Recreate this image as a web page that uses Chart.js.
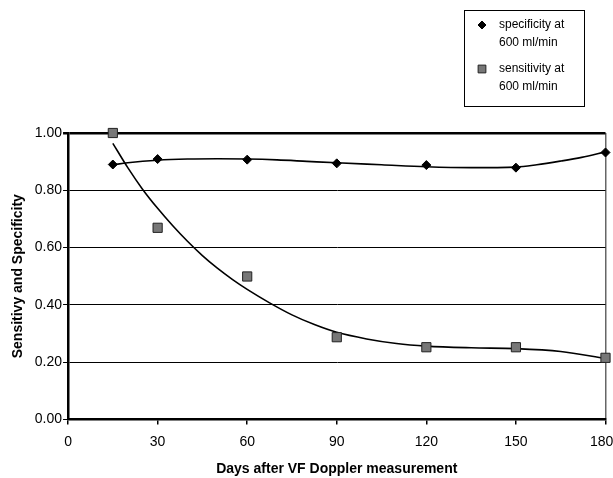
<!DOCTYPE html>
<html>
<head>
<meta charset="utf-8">
<script src="https://cdn.jsdelivr.net/npm/chart.js@4.4.1/dist/chart.umd.min.js"></script>
<style>
  html, body { margin: 0; padding: 0; background: #fff; }
  #wrap { width: 613px; height: 478px; position: relative; }
</style>
</head>
<body>
<div id="wrap"><canvas id="chart" width="613" height="478"></canvas></div>
<script>
// measured days
const days = [15, 30, 60, 90, 120, 150, 180];
const specificity = [0.89, 0.909, 0.907, 0.894, 0.888, 0.879, 0.932];
const sensitivity = [1.00, 0.669, 0.499, 0.287, 0.252, 0.252, 0.215];

// trend lines
const specTrendDays = [15, 20, 30, 40, 50, 60, 70, 80, 90, 105, 120, 135, 150, 157, 165, 172, 180];
const specTrend = [0.889, 0.896, 0.905, 0.909, 0.910, 0.909, 0.906, 0.901, 0.896, 0.889, 0.882, 0.879, 0.881, 0.889, 0.902, 0.915, 0.934];
const sensTrendDays = [15, 20, 25, 30, 35, 40, 45, 50, 55, 60, 67.5, 75, 82.5, 90, 100, 110, 120, 135, 150, 165, 180];
const sensTrend = [0.964, 0.879, 0.803, 0.737, 0.677, 0.622, 0.572, 0.528, 0.489, 0.454, 0.407, 0.365, 0.331, 0.304, 0.281, 0.265, 0.256, 0.250, 0.247, 0.237, 0.213];

const xTicks = [0, 30, 60, 90, 120, 150, 180];
const yTicks = [0, 0.2, 0.4, 0.6, 0.8, 1.0];

const FONT = "'Liberation Sans', Arial, sans-serif";

function pts(xs, ys) {
  return xs.map((x, i) => ({ x, y: ys[i] }));
}

// boxed legend in the top right corner
const boxLegend = {
  id: 'boxLegend',
  afterDraw(chart) {
    const ctx = chart.ctx;
    const x0 = 464, y0 = 10, w = 120, h = 96;
    ctx.save();
    ctx.strokeStyle = '#000';
    ctx.lineWidth = 1;
    ctx.strokeRect(x0 + 0.5, y0 + 0.5, w, h);
    ctx.font = '12px ' + FONT;
    ctx.textBaseline = 'middle';
    const items = [
      { ds: chart.data.datasets[0], y: y0 + 15, r: 4 },
      { ds: chart.data.datasets[1], y: y0 + 59, r: 5.5 }
    ];
    items.forEach(it => {
      ctx.fillStyle = it.ds.backgroundColor;
      ctx.strokeStyle = it.ds.borderColor;
      ctx.lineWidth = 1;
      Chart.helpers.drawPoint(ctx, {
        pointStyle: it.ds.pointStyle,
        radius: it.r,
        borderWidth: 1
      }, x0 + 18, it.y);
      ctx.fillStyle = '#000';
      it.ds.label.split('\n').forEach((ln, k) => ctx.fillText(ln, x0 + 35, it.y + k * 17.5));
    });
    ctx.restore();
  }
};

new Chart(document.getElementById('chart'), {
  type: 'scatter',
  data: {
    datasets: [
      {
        label: 'specificity at\n600 ml/min',
        data: pts(days, specificity),
        pointStyle: 'rectRot',
        pointRadius: 4.5,
        backgroundColor: '#000',
        borderColor: '#000',
        borderWidth: 1,
        clip: false,
        order: 1
      },
      {
        label: 'sensitivity at\n600 ml/min',
        data: pts(days, sensitivity),
        pointStyle: 'rect',
        pointRadius: 6.5,
        backgroundColor: '#777',
        borderColor: '#222',
        borderWidth: 1,
        clip: false,
        order: 1
      },
      {
        type: 'line',
        label: 'spec trend',
        data: pts(specTrendDays, specTrend),
        borderColor: '#000',
        borderWidth: 1.6,
        pointRadius: 0,
        fill: false,
        cubicInterpolationMode: 'monotone',
        order: 2
      },
      {
        type: 'line',
        label: 'sens trend',
        data: pts(sensTrendDays, sensTrend),
        borderColor: '#000',
        borderWidth: 1.6,
        pointRadius: 0,
        fill: false,
        cubicInterpolationMode: 'monotone',
        order: 2
      }
    ]
  },
  options: {
    responsive: false,
    animation: false,
    layout: { padding: { top: 133, right: 7, left: 0, bottom: 0 } },
    plugins: {
      legend: { display: false },
      tooltip: { enabled: false }
    },
    scales: {
      x: {
        type: 'linear',
        min: 0,
        max: 180,
        afterBuildTicks: s => { s.ticks = xTicks.map(v => ({ value: v })); },
        afterFit: s => { s.paddingRight = 0; s.paddingLeft = 0; },
        ticks: {
          color: '#000',
          font: { family: FONT, size: 14 },
          padding: 9,
          maxRotation: 0,
          callback: v => v === 180 ? v + '  ' : String(v)
        },
        grid: {
          drawOnChartArea: true,
          color: c => (c.tick && c.tick.value === 180) ? '#666' : 'rgba(0,0,0,0)',
          tickColor: '#000',
          tickLength: 5,
          lineWidth: 1.5
        },
        border: { color: '#000', width: 2.5 },
        title: {
          display: true,
          text: 'Days after VF Doppler measurement',
          color: '#000',
          font: { family: FONT, size: 14, weight: 'bold' },
          padding: { top: 2, bottom: 0 }
        }
      },
      y: {
        min: 0,
        max: 1,
        afterBuildTicks: s => { s.ticks = yTicks.map(v => ({ value: v })); },
        ticks: {
          color: '#000',
          font: { family: FONT, size: 14 },
          padding: 1,
          callback: v => v.toFixed(2)
        },
        grid: {
          color: '#000',
          tickColor: '#000',
          tickLength: 5,
          lineWidth: c => (c.tick && c.tick.value === 1) ? 2.5 : 1
        },
        border: { color: '#000', width: 2.5 },
        title: {
          display: true,
          text: 'Sensitivy and Specificity',
          color: '#000',
          font: { family: FONT, size: 14, weight: 'bold' },
          padding: { top: 9.6, bottom: 7.4 }
        }
      }
    }
  },
  plugins: [boxLegend]
});
</script>
</body>
</html>
